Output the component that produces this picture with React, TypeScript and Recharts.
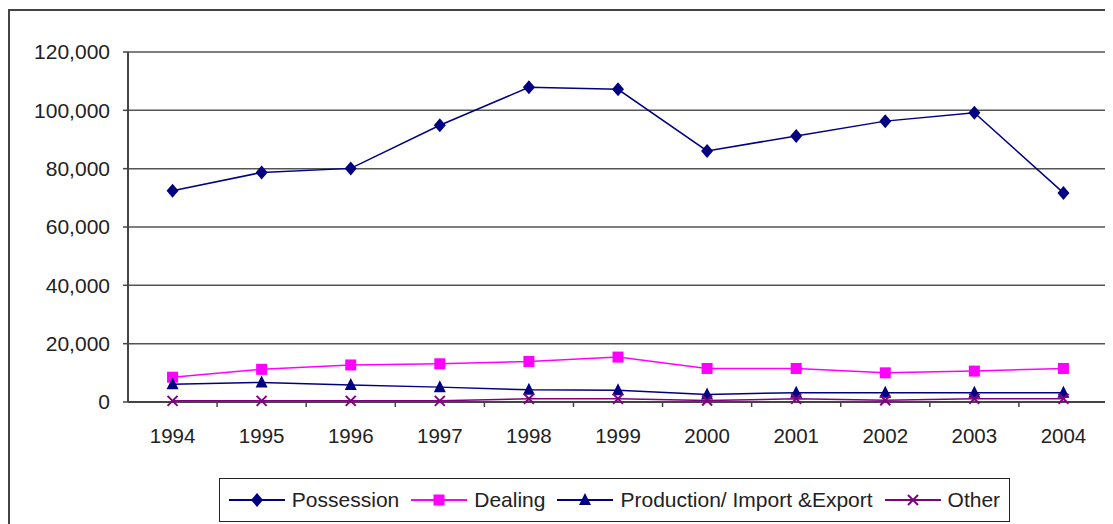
import React from "react";
import {
  LineChart, Line, XAxis, YAxis, CartesianGrid, Legend,
} from "recharts";

const years = ["1994", "1995", "1996", "1997", "1998", "1999", "2000", "2001", "2002", "2003", "2004"];
const possession = [72400, 78700, 80100, 94900, 107900, 107200, 86100, 91200, 96300, 99200, 71700];
const dealing = [8500, 11200, 12700, 13100, 13900, 15400, 11500, 11500, 10000, 10600, 11500];
const production = [6100, 6700, 5800, 5100, 4200, 4000, 2600, 3200, 3200, 3200, 3200];
const other = [400, 400, 400, 400, 1100, 1100, 500, 1100, 600, 1100, 1100];
const yTicks = [0, 20000, 40000, 60000, 80000, 100000, 120000];

const NAVY = "#000080";
const PINK = "#ff00ff";
const PURPLE = "#800080";
const FONT = "'Liberation Sans', Arial, sans-serif";

const data = years.map((y, i) => ({
  year: y,
  possession: possession[i],
  dealing: dealing[i],
  production: production[i],
  other: other[i],
}));

type Shape = "diamond" | "square" | "triangle" | "x";

function marker(shape: Shape, cx: number, cy: number, color: string, key?: React.Key) {
  if (shape === "diamond")
    return <path key={key} d={`M${cx},${cy - 7}L${cx + 6},${cy}L${cx},${cy + 7}L${cx - 6},${cy}Z`} fill={color} />;
  if (shape === "square")
    return <rect key={key} x={cx - 5.5} y={cy - 5.5} width={11} height={11} fill={color} />;
  if (shape === "triangle")
    return <path key={key} d={`M${cx},${cy - 7}L${cx + 6},${cy + 5}L${cx - 6},${cy + 5}Z`} fill={color} />;
  return (
    <g key={key} stroke={color} strokeWidth={2}>
      <line x1={cx - 5} y1={cy - 5} x2={cx + 5} y2={cy + 5} />
      <line x1={cx - 5} y1={cy + 5} x2={cx + 5} y2={cy - 5} />
    </g>
  );
}

const dotFor = (shape: Shape, color: string) => (p: any) =>
  marker(shape, p.cx, p.cy, color, `${shape}-${p.index}`);

const series: { key: string; name: string; color: string; shape: Shape }[] = [
  { key: "possession", name: "Possession", color: NAVY, shape: "diamond" },
  { key: "dealing", name: "Dealing", color: PINK, shape: "square" },
  { key: "production", name: "Production/ Import &Export", color: NAVY, shape: "triangle" },
  { key: "other", name: "Other", color: PURPLE, shape: "x" },
];

function YearTick(props: any) {
  const { x, y, payload, index, visibleTicksCount } = props;
  const half = payload?.offset || 44.5;
  return (
    <g>
      {index > 0 && <line x1={x - half} y1={y} x2={x - half} y2={y + 5} stroke="#444" strokeWidth={1.5} />}
      {index === visibleTicksCount - 1 && (
        <line x1={x + half} y1={y} x2={x + half} y2={y + 5} stroke="#444" strokeWidth={1.5} />
      )}
      <text x={x} y={y + 41} textAnchor="middle" fontSize={20.5} fontFamily={FONT} fill="#222">
        {payload.value}
      </text>
    </g>
  );
}

function LegendBox() {
  return (
    <div
      style={{
        width: "100%", height: "100%", boxSizing: "border-box", border: "1.5px solid #222",
        display: "flex", alignItems: "center", justifyContent: "center", gap: 12,
        fontFamily: FONT, fontSize: 21, color: "#222", background: "#fff",
      }}
    >
      {series.map((s) => (
        <div key={s.key} style={{ display: "flex", alignItems: "center", gap: 7 }}>
          <svg width={56} height={20}>
            <line x1={0} y1={10} x2={56} y2={10} stroke={s.color} strokeWidth={2} />
            {marker(s.shape, 28, 10, s.color)}
          </svg>
          <span>{s.name}</span>
        </div>
      ))}
    </div>
  );
}

export default function App() {
  return (
    <div style={{ position: "relative", width: 1105, height: 516, overflow: "hidden", background: "#fff" }}>
      <div
        style={{
          position: "absolute", left: 0, top: 1, width: 1200, height: 600,
          borderTop: "2px solid #444", borderLeft: "2px solid #444",
        }}
      />
      <div style={{ position: "absolute", left: 0, top: 0 }}>
        <LineChart width={1105} height={516} data={data} margin={{ top: 44, right: 0, left: 0, bottom: 62 }}>
          <CartesianGrid vertical={false} stroke="#555" strokeWidth={1.5} />
          <XAxis
            dataKey="year"
            scale="band"
            height={60}
            axisLine={{ stroke: "#444", strokeWidth: 2 }}
            tickLine={false}
            tickSize={0}
            tickMargin={0}
            interval={0}
            tick={<YearTick />}
          />
          <YAxis
            width={120}
            domain={[0, 120000]}
            ticks={yTicks}
            interval={0}
            tickFormatter={(v: number) => v.toLocaleString("en-US")}
            axisLine={{ stroke: "#444", strokeWidth: 2 }}
            tickLine={{ stroke: "#444", strokeWidth: 1.5 }}
            tickSize={5}
            tickMargin={13}
            tick={{ fontSize: 21, fontFamily: FONT, fill: "#222" }}
          />
          <YAxis
            yAxisId="right"
            orientation="right"
            width={5}
            domain={[0, 1]}
            tick={false}
            tickLine={false}
            axisLine={{ stroke: "#999", strokeWidth: 2 }}
          />
          {series.map((s) => (
            <Line
              key={s.key}
              type="linear"
              dataKey={s.key}
              name={s.name}
              stroke={s.color}
              strokeWidth={1.5}
              dot={dotFor(s.shape, s.color)}
              activeDot={false}
              isAnimationActive={false}
            />
          ))}
          <Legend
            layout="horizontal"
            verticalAlign="middle"
            align="center"
            content={<LegendBox />}
            wrapperStyle={{ left: 211, top: 470, width: 791, height: 44 }}
          />
        </LineChart>
      </div>
    </div>
  );
}
